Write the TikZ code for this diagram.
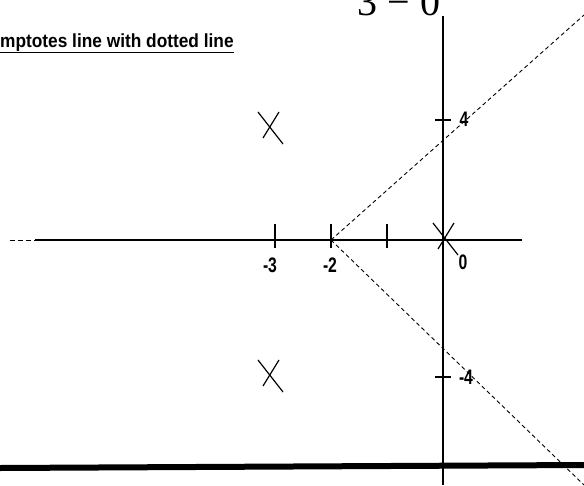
\documentclass[tikz,border=0pt]{standalone}
\usepackage{fontspec}
\setmainfont{Liberation Serif}
\setsansfont{Liberation Sans}
\newcommand{\squeezed}[2]{\scalebox{#1}[1]{#2}}

\begin{document}
\begin{tikzpicture}[x=1pt, y=-1pt,
    axisline/.style={line width=2pt},
    tickline/.style={line width=2pt},
    polemark/.style={line width=1.2pt},
    asymline/.style={line width=0.9pt, dash pattern=on 4pt off 3pt},
    ticklabel/.style={font=\sffamily\bfseries\fontsize{21}{21}\selectfont, inner sep=0pt}]
  \useasboundingbox (0,0) rectangle (584,485);

  % Clipped texts at the top
  \node[anchor=base, inner sep=0pt, font=\fontsize{40}{40}\selectfont] (eqn) at (399,15.5) {3 − 0};
  \node[anchor=base west, inner sep=0pt, font=\sffamily\bfseries\fontsize{19}{19}\selectfont] (title) at (0,47) {\squeezed{0.91}{mptotes line with dotted line}};
  \coordinate (ulleft) at (0,52.5);
  \coordinate (ulright) at (title.east |- ulleft);
  \draw[line width=1.8pt] (ulleft) -- (ulright);

  % Axes
  \coordinate (xleft) at (35,240);
  \coordinate (xright) at (522,240);
  \coordinate (xfar) at (10,240);
  \coordinate (ytop) at (443,16);
  \coordinate (ybot) at (443,485);
  \draw[axisline] (xleft) -- (xright);
  \draw[line width=1pt, dash pattern=on 5pt off 3pt] (xfar) -- (xleft);
  \draw[axisline] (ytop) -- (ybot);

  % Ticks
  \foreach \tx in {275,331,387}{
    \draw[tickline] (\tx,224) -- (\tx,248);
  }
  \foreach \ty in {120,377}{
    \draw[tickline] (435,\ty) -- (451,\ty);
  }

  % Tick labels
  \node[ticklabel] (lm3) at (270,265.5) {\squeezed{0.75}{-3}};
  \node[ticklabel] (lm2) at (330,265.5) {\squeezed{0.75}{-2}};
  \node[ticklabel] (l0) at (463,262.5) {\squeezed{0.75}{0}};
  \node[ticklabel] (l4) at (464,119.5) {\squeezed{0.75}{4}};
  \node[ticklabel] (lm4) at (466,377.5) {\squeezed{0.75}{-4}};

  % Poles
  \foreach \cx/\cy in {271/128, 271/376, 446/239}{
    \draw[polemark] (\cx-13,\cy-16) -- (\cx+12,\cy+16);
    \draw[polemark] (\cx+8,\cy-16) -- (\cx-8,\cy+10);
  }

  % Asymptotes
  \coordinate (centroid) at (331,240);
  \coordinate (asymup) at (584,15);
  \coordinate (asymdown) at (584,485);
  \draw[asymline] (centroid) -- (asymup);
  \draw[asymline] (centroid) -- (asymdown);

  % Bottom rule
  \coordinate (ruleleft) at (0,468);
  \coordinate (ruleright) at (584,465);
  \draw[line width=6pt] (ruleleft) -- (ruleright);
\end{tikzpicture}
\end{document}
